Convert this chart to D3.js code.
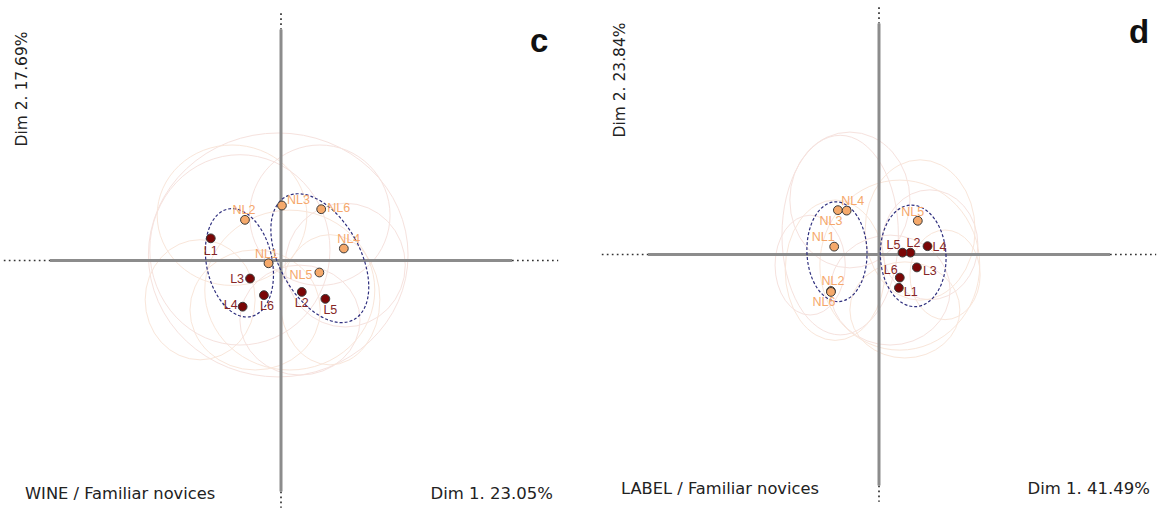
<!DOCTYPE html>
<html><head><meta charset="utf-8">
<script src="https://cdn.jsdelivr.net/npm/d3@7/dist/d3.min.js"></script>
<style>html,body{margin:0;padding:0;background:#fff;}</style>
</head><body>
<svg id="chart" width="1157" height="509"></svg>
<script>
// ---------------- DATA ----------------
const pointNames = ["NL1","NL2","NL3","NL4","NL5","NL6","L1","L2","L3","L4","L5","L6"];
const pointGroups = ["NL","NL","NL","NL","NL","NL","L","L","L","L","L","L"];

// Panel c : WINE / Familiar novices
const wineDim1 = [-0.27,-0.78, 0.02, 1.36, 0.83, 0.87,-1.52, 0.45,-0.67,-0.83, 0.96,-0.37];
const wineDim2 = [-0.06, 0.88, 1.19, 0.26,-0.26, 1.11, 0.48,-0.68,-0.39,-1.00,-0.83,-0.75];
// Panel d : LABEL / Familiar novices
const labelDim1 = [-0.97,-1.04,-0.89,-0.70, 0.84,-1.04, 0.43, 0.68, 0.82, 1.05, 0.51, 0.45];
const labelDim2 = [ 0.17,-0.79, 0.96, 0.95, 0.73,-0.81,-0.72, 0.04,-0.28, 0.18, 0.04,-0.50];

// cluster ellipses (centre, semi-axes in Dim units, rotation in degrees)
const wineEllCx = [-0.90, 0.84], wineEllCy = [-0.05, 0.05];
const wineEllRx = [0.71, 0.87],  wineEllRy = [1.19, 1.52], wineEllAngle = [-12, -29];
const labelEllCx = [-0.91, 0.74], labelEllCy = [0.06, -0.03];
const labelEllRx = [0.65, 0.71],  labelEllRy = [1.08, 1.10], labelEllAngle = [-2, -3];

// faint partial ellipses
const wineFaintCx = [-0.06,-1.06, 1.39,-1.75, 0.41,-0.56, 0.84, 0.19,-0.89, 1.06];
const wineFaintCy = [ 0.12, 0.98,-0.10,-0.85,-1.29,-1.07, 0.98,-0.64, 0.23,-0.85];
const wineFaintRx = [ 2.81, 1.62, 1.30, 1.19, 1.30, 1.41, 1.52, 1.84, 1.95, 1.08];
const wineFaintRy = [ 2.64, 1.52, 1.34, 1.30, 1.19, 1.30, 1.52, 1.73, 2.06, 1.41];
const labelFaintCx = [-0.84,-0.95, 1.10, 0.56, 0.24, 0.89,-0.63, 0.45,-1.49, 1.43];
const labelFaintCy = [ 0.42,-0.34, 0.21,-1.20,-0.77, 0.53, 1.18,-0.23,-0.23,-0.44];
const labelFaintRx = [ 1.26, 1.08, 1.04, 1.19, 1.30, 1.19, 1.30, 1.73, 0.76, 0.76];
const labelFaintRy = [ 2.16, 1.52, 1.19, 1.04, 1.19, 1.52, 1.47, 1.84, 1.08, 0.97];

const axisDomain = [-5, 5];
const panelLetters = ["c", "d"];
const panelTitles = ["WINE / Familiar novices", "LABEL / Familiar novices"];
const dim1Labels = ["Dim 1. 23.05%", "Dim 1. 41.49%"];
const dim2Labels = ["Dim 2. 17.69%", "Dim 2. 23.84%"];

// ---------------- LAYOUT / STYLE ----------------
const layouts = [
  { xr:[50,512],  yr:[491.5,29.5], xExt:6.0, yExt:5.35,
    letter:[530,52], title:[25,499], dim1:[553,499], dim2:[27,89],
    lab: { NL1:[-2,-10,"middle"], NL2:[-1,-10,"middle"], NL3:[5,-6,"start"], NL4:[5,-10,"middle"],
           NL5:[-7,2,"end"], NL6:[6,-2,"start"], L1:[0,12,"middle"], L2:[0,11,"middle"],
           L3:[-6,0,"end"], L4:[-5,-2,"end"], L5:[5,11,"middle"], L6:[3,10,"middle"] } },
  { xr:[648,1110], yr:[485.5,23.5], xExt:6.0, yExt:5.35,
    letter:[1129,43], title:[621,494], dim1:[1150,494], dim2:[625,80],
    lab: { NL1:[-11,-10,"middle"], NL2:[2,-10,"middle"], NL3:[-7,10,"middle"], NL4:[6,-10,"middle"],
           NL5:[-5,-9,"middle"], NL6:[-7,10,"middle"], L1:[5,4,"start"], L2:[3,-10,"middle"],
           L3:[6,3,"start"], L4:[5,0,"start"], L5:[-9,-8,"middle"], L6:[-9,-8,"middle"] } }
];

const panelsData = [
  { d1: wineDim1, d2: wineDim2,
    ell: {cx:wineEllCx, cy:wineEllCy, rx:wineEllRx, ry:wineEllRy, a:wineEllAngle},
    faint: {cx:wineFaintCx, cy:wineFaintCy, rx:wineFaintRx, ry:wineFaintRy} },
  { d1: labelDim1, d2: labelDim2,
    ell: {cx:labelEllCx, cy:labelEllCy, rx:labelEllRx, ry:labelEllRy, a:labelEllAngle},
    faint: {cx:labelFaintCx, cy:labelFaintCy, rx:labelFaintRx, ry:labelFaintRy} }
];

const svg = d3.select("#chart");
const faintColors = ["#f6e2de", "#f9e6da"];

panelsData.forEach((pd, pi) => {
  const L = layouts[pi];
  const x = d3.scaleLinear().domain(axisDomain).range(L.xr);
  const y = d3.scaleLinear().domain(axisDomain).range(L.yr);
  const g = svg.append("g");

  // faint ellipses
  pd.faint.cx.forEach((cx, i) => {
    g.append("ellipse")
      .attr("cx", x(cx)).attr("cy", y(pd.faint.cy[i]))
      .attr("rx", x(pd.faint.rx[i]) - x(0)).attr("ry", y(0) - y(pd.faint.ry[i]))
      .attr("fill", "none").attr("stroke", faintColors[i % 2]).attr("stroke-width", 1);
  });

  // dotted axis extensions
  const dotted = [
    [x(-L.xExt), y(0), x(axisDomain[0]), y(0)],
    [x(axisDomain[1]), y(0), x(L.xExt), y(0)],
    [x(0), y(L.yExt), x(0), y(axisDomain[1])],
    [x(0), y(axisDomain[0]), x(0), y(-L.yExt)]
  ];
  dotted.forEach(s => {
    g.append("line").attr("x1", s[0]).attr("y1", s[1]).attr("x2", s[2]).attr("y2", s[3])
      .attr("stroke", "#333").attr("stroke-width", 1.7).attr("stroke-dasharray", "1.7,3.3");
  });

  // solid axes
  g.append("line").attr("x1", x(axisDomain[0])).attr("x2", x(axisDomain[1]))
    .attr("y1", y(0)).attr("y2", y(0)).attr("stroke", "#8c8c8c").attr("stroke-width", 3);
  g.append("line").attr("x1", x(0)).attr("x2", x(0))
    .attr("y1", y(axisDomain[0])).attr("y2", y(axisDomain[1])).attr("stroke", "#8c8c8c").attr("stroke-width", 3);

  // cluster ellipses
  pd.ell.cx.forEach((cx, i) => {
    g.append("ellipse")
      .attr("transform", `translate(${x(cx)},${y(pd.ell.cy[i])}) rotate(${pd.ell.a[i]})`)
      .attr("rx", x(pd.ell.rx[i]) - x(0)).attr("ry", y(0) - y(pd.ell.ry[i]))
      .attr("fill", "none").attr("stroke", "#2f2f7e").attr("stroke-width", 1.2)
      .attr("stroke-dasharray", "3,2");
  });

  // points
  pointNames.forEach((name, i) => {
    const isNL = pointGroups[i] === "NL";
    g.append("circle").attr("cx", x(pd.d1[i])).attr("cy", y(pd.d2[i])).attr("r", 4.4)
      .attr("fill", isNL ? "#f5a96b" : "#7a0606").attr("stroke", "#3a3a3a").attr("stroke-width", 1);
  });
  // labels
  pointNames.forEach((name, i) => {
    const isNL = pointGroups[i] === "NL";
    const p = L.lab[name];
    g.append("text").attr("x", x(pd.d1[i]) + p[0]).attr("y", y(pd.d2[i]) + p[1])
      .attr("dy", "0.35em").attr("text-anchor", p[2])
      .attr("font-family", "'Liberation Sans', Arial, sans-serif").attr("font-size", 12.5)
      .attr("fill", isNL ? "#f5a86c" : "#852626").text(name);
  });

  // panel texts
  const tf = "'DejaVu Sans', Verdana, sans-serif";
  g.append("text").attr("x", L.letter[0]).attr("y", L.letter[1])
    .attr("font-family", "'Liberation Sans', Arial, sans-serif").attr("font-weight", "bold")
    .attr("font-size", 33).attr("fill", "#111").text(panelLetters[pi]);
  g.append("text").attr("x", L.title[0]).attr("y", L.title[1])
    .attr("font-family", tf).attr("font-size", 16.3).attr("fill", "#222").text(panelTitles[pi]);
  g.append("text").attr("x", L.dim1[0]).attr("y", L.dim1[1]).attr("text-anchor", "end")
    .attr("font-family", tf).attr("font-size", 16.5).attr("fill", "#222").text(dim1Labels[pi]);
  g.append("text").attr("transform", `translate(${L.dim2[0]},${L.dim2[1]}) rotate(-90)`)
    .attr("text-anchor", "middle")
    .attr("font-family", tf).attr("font-size", 15.5).attr("fill", "#222").text(dim2Labels[pi]);
});
</script>
</body></html>
